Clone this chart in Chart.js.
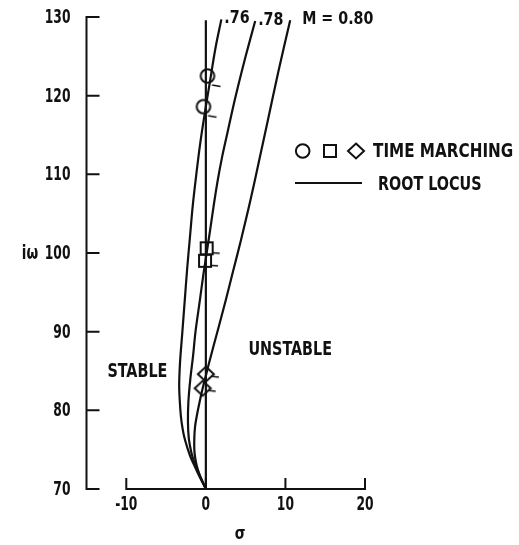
<!DOCTYPE html>
<html>
<head>
<meta charset="utf-8">
<script src="https://cdn.jsdelivr.net/npm/chart.js@4/dist/chart.umd.min.js"></script>
<style>
  html, body { margin: 0; padding: 0; background: #fff; }
  canvas { display: block; }
</style>
</head>
<body>
<canvas id="c" width="519" height="545"></canvas>
<script>
// ---- data ----
const yTicks = [70, 80, 90, 100, 110, 120, 130];
const xTicks = [-10, 0, 10, 20];
const curveLabels = ['.76', '.78', 'M = 0.80'];
const legendLabels = ['TIME MARCHING', 'ROOT LOCUS'];
const regionLabels = ['STABLE', 'UNSTABLE'];
const xTitle = 'σ';
const yTitle = 'iω';

// root locus M = 0.76
const m76Omega = [70, 71, 72, 73, 74, 75, 76, 77, 78.5, 80, 83, 86, 90, 94, 98, 102, 106, 110, 114, 118, 122, 126, 129.7];
const m76Sigma = [0, -0.5, -1.0, -1.45, -1.9, -2.25, -2.55, -2.8, -3.05, -3.2, -3.35, -3.25, -2.95, -2.65, -2.35, -2.0, -1.65, -1.2, -0.7, -0.1, 0.55, 1.2, 1.95];
// root locus M = 0.78
const m78Omega = [70, 71, 72, 73, 74, 75, 76.5, 78.5, 81, 84, 87, 90, 94, 97, 99, 101, 103, 106, 109, 112, 115, 118, 121, 125, 129.5];
const m78Sigma = [0, -0.45, -0.9, -1.3, -1.65, -1.9, -2.15, -2.25, -2.2, -1.95, -1.6, -1.3, -0.75, -0.35, -0.05, 0.25, 0.55, 0.98, 1.45, 2.0, 2.65, 3.3, 4.0, 5.0, 6.2];
// root locus M = 0.80
const m80Omega = [70, 71, 72, 73, 74, 75, 76.5, 78, 79.5, 81, 82.8, 84.6, 86.4, 90, 94, 97.8, 101.6, 106.7, 112, 116.9, 123, 129.6];
const m80Sigma = [0, -0.45, -0.85, -1.15, -1.35, -1.45, -1.45, -1.35, -1.1, -0.8, -0.4, 0.05, 0.5, 1.45, 2.5, 3.45, 4.4, 5.6, 6.75, 7.8, 9.1, 10.6];
// stability boundary sigma = 0
const boundaryOmega = [70, 129.6];
const boundarySigma = [0, 0];
// time-marching results
const circleSigma = [0.2, -0.3];
const circleOmega = [122.5, 118.6];
const squareSigma = [0.1, -0.1];
const squareOmega = [100.6, 99.0];
const diamondSigma = [0.0, -0.4];
const diamondOmega = [84.6, 82.8];

// ---- helpers ----
const pts = (xs, ys) => xs.map((x, i) => ({ x: x, y: ys[i] }));
const INK = '#111';
const FONT = '"DejaVu Sans Condensed", "DejaVu Sans", sans-serif';

function text(ctx, str, x, y, opts) {
  ctx.save();
  ctx.font = opts.font;
  ctx.textAlign = opts.align || 'left';
  ctx.textBaseline = opts.baseline || 'middle';
  ctx.translate(x, y);
  ctx.scale(opts.sx || 1, 1);
  ctx.fillStyle = INK;
  ctx.fillText(str, 0, 0);
  ctx.restore();
}

function drawShape(ctx, kind, cx, cy) {
  ctx.beginPath();
  if (kind === 'circle') {
    ctx.arc(cx, cy, 6.8, 0, Math.PI * 2);
  } else if (kind === 'square') {
    ctx.rect(cx - 6, cy - 6, 12, 12);
  } else {
    ctx.moveTo(cx, cy - 7.5);
    ctx.lineTo(cx + 8, cy);
    ctx.lineTo(cx, cy + 7.5);
    ctx.lineTo(cx - 8, cy);
    ctx.closePath();
  }
  ctx.fillStyle = '#fff';
  ctx.fill();
  ctx.lineWidth = 2;
  ctx.strokeStyle = INK;
  ctx.stroke();
}

function flaggedMarker(kind) {
  const cv = document.createElement('canvas');
  cv.width = 44; cv.height = 44;
  const ctx = cv.getContext('2d');
  const c = 22;
  ctx.lineWidth = 1.7;
  ctx.strokeStyle = INK;
  ctx.beginPath();
  if (kind === 'circle') { ctx.moveTo(c + 4.5, c + 9); ctx.lineTo(c + 13, c + 10.5); }
  else if (kind === 'square') { ctx.moveTo(c + 6, c + 4.5); ctx.lineTo(c + 13, c + 5); }
  else { ctx.moveTo(c + 5, c + 2); ctx.lineTo(c + 13, c + 3); }
  ctx.stroke();
  drawShape(ctx, kind, c, c);
  return cv;
}

const lineStyle = {
  showLine: true, borderColor: INK, borderWidth: 2.2, pointRadius: 0,
  tension: 0.35, fill: false, clip: false
};
const markerStyle = (kind) => ({
  showLine: false, pointStyle: flaggedMarker(kind), pointRadius: 8, clip: false
});

const NUMFONT = 'bold 19px ' + FONT;
const TXTFONT = 'bold 19px ' + FONT;
const TXTSX = 0.84;

const axesPlugin = {
  id: 'paperAxes',
  beforeDatasetsDraw(chart) {
    const { ctx, scales: { x, y } } = chart;
    const x0 = x.getPixelForValue(x.min);
    const yBottom = y.getPixelForValue(y.min);
    ctx.save();
    ctx.strokeStyle = INK;
    ctx.lineWidth = 2;
    ctx.lineCap = 'square';
    // y axis with inward ticks
    ctx.beginPath();
    ctx.moveTo(x0, y.getPixelForValue(y.max));
    ctx.lineTo(x0, yBottom);
    yTicks.forEach(v => {
      const py = y.getPixelForValue(v);
      ctx.moveTo(x0, py); ctx.lineTo(x0 + 12, py);
    });
    ctx.stroke();
    // x axis starting at first tick, ticks pointing up
    ctx.beginPath();
    const xa = x.getPixelForValue(xTicks[0]);
    const xb = x.getPixelForValue(xTicks[xTicks.length - 1]);
    ctx.moveTo(xa, yBottom); ctx.lineTo(xb, yBottom);
    xTicks.forEach(v => {
      const px = x.getPixelForValue(v);
      ctx.moveTo(px, yBottom); ctx.lineTo(px, yBottom - 10);
    });
    ctx.stroke();
    ctx.restore();
    // tick labels
    yTicks.forEach(v => text(ctx, String(v), x0 - 16, y.getPixelForValue(v) + 1,
      { font: NUMFONT, align: 'right', sx: 0.72 }));
    xTicks.forEach(v => text(ctx, String(v), x.getPixelForValue(v), yBottom + 16,
      { font: NUMFONT, align: 'center', sx: 0.72 }));
    // axis titles
    text(ctx, xTitle, x.getPixelForValue(4.3), yBottom + 45, { font: 'bold 18px ' + FONT, align: 'center', sx: 0.85 });
    text(ctx, yTitle, 30, y.getPixelForValue(100) + 1, { font: 'bold 20px ' + FONT, align: 'center', sx: 0.75 });
  },
  afterDraw(chart) {
    const { ctx, scales: { x, y } } = chart;
    // curve labels at the top end of each locus
    const ends = [
      [m76Sigma[m76Sigma.length - 1], m76Omega[m76Omega.length - 1]],
      [m78Sigma[m78Sigma.length - 1], m78Omega[m78Omega.length - 1]],
      [m80Sigma[m80Sigma.length - 1], m80Omega[m80Omega.length - 1]]
    ];
    ends.forEach((e, i) => {
      const px = x.getPixelForValue(e[0]);
      const py = y.getPixelForValue(e[1]);
      text(ctx, curveLabels[i], px + (i === 2 ? 12 : 3), py - 1, { font: 'bold 18px ' + FONT, sx: 0.88 });
    });
    // region labels
    text(ctx, regionLabels[0], x.getPixelForValue(-8.6), y.getPixelForValue(84.9), { font: TXTFONT, align: 'center', sx: TXTSX });
    text(ctx, regionLabels[1], x.getPixelForValue(10.6), y.getPixelForValue(87.7), { font: TXTFONT, align: 'center', sx: TXTSX });
    // legend
    const ly1 = 151, ly2 = 184;
    drawShape(ctx, 'circle', 302.7, ly1);
    drawShape(ctx, 'square', 330, ly1);
    drawShape(ctx, 'diamond', 356, ly1);
    text(ctx, legendLabels[0], 373, ly1 + 1, { font: TXTFONT, sx: 0.89 });
    ctx.save();
    ctx.strokeStyle = INK;
    ctx.lineWidth = 2;
    ctx.beginPath();
    ctx.moveTo(295, ly2 - 1); ctx.lineTo(362, ly2 - 1);
    ctx.stroke();
    ctx.restore();
    text(ctx, legendLabels[1], 378, ly2 + 1, { font: TXTFONT, sx: TXTSX });
  }
};

new Chart(document.getElementById('c'), {
  type: 'scatter',
  data: {
    datasets: [
      Object.assign({ label: 'M = 0.76', data: pts(m76Sigma, m76Omega) }, lineStyle),
      Object.assign({ label: 'M = 0.78', data: pts(m78Sigma, m78Omega) }, lineStyle),
      Object.assign({ label: 'M = 0.80', data: pts(m80Sigma, m80Omega) }, lineStyle),
      Object.assign({ label: 'sigma = 0', data: pts(boundarySigma, boundaryOmega) }, lineStyle, { tension: 0 }),
      Object.assign({ label: 'circles', data: pts(circleSigma, circleOmega) }, markerStyle('circle')),
      Object.assign({ label: 'squares', data: pts(squareSigma, squareOmega) }, markerStyle('square')),
      Object.assign({ label: 'diamonds', data: pts(diamondSigma, diamondOmega) }, markerStyle('diamond'))
    ]
  },
  options: {
    responsive: false,
    animation: false,
    devicePixelRatio: 1,
    layout: { padding: { left: 86.5, right: 154, top: 17, bottom: 56 } },
    scales: {
      x: { type: 'linear', min: -15, max: 20, display: false },
      y: { type: 'linear', min: 70, max: 130, display: false }
    },
    plugins: { legend: { display: false }, tooltip: { enabled: false } }
  },
  plugins: [axesPlugin]
});
</script>
</body>
</html>
